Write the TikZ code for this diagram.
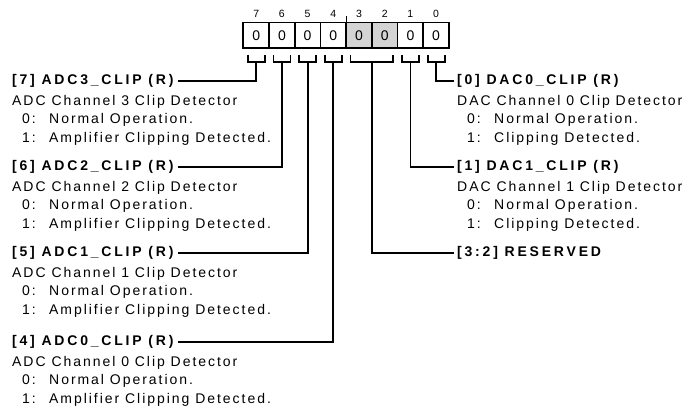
\documentclass[tikz,border=0pt]{standalone}
\usepackage{fontspec}
\setmainfont{Liberation Sans}[LetterSpace=14,BoldFeatures={LetterSpace=20}]
\usetikzlibrary{positioning}
\newcommand{\clipdesc}[3]{#1 Channel #2 Clip Detector\\
  \hspace*{10pt}\makebox[27pt][l]{0:}Normal Operation.\\
  \hspace*{10pt}\makebox[27pt][l]{1:}#3Clipping Detected.}

\begin{document}
\begin{tikzpicture}[
    x=1pt,y=-1pt,
    bitbox/.style={rectangle,draw,line width=1.8pt,outer sep=0pt,minimum width=25.7pt,
                   minimum height=25.5pt,inner sep=0pt,font=\fontsize{14}{16}\selectfont},
    bitnum/.style={inner sep=0pt,font=\fontsize{10.5}{12}\selectfont},
    fieldname/.style={anchor=west,inner sep=0pt,font=\fontsize{14}{16}\selectfont\bfseries},
    fielddesc/.style={anchor=north west,inner sep=0pt,align=left,
                      font=\fontsize{14}{18.5}\selectfont},
    wire/.style={line width=1.8pt}
  ]
  \useasboundingbox (0,0) rectangle (691,405);
  \foreach \b/\c in {7/white,6/white,5/white,4/white,3/black!17,2/black!17,1/white,0/white}{
    \node[bitbox,fill=\c] (r\b) at ({256.2+(7-\b)*25.7},35.2) {0};
    \node[bitnum,above=5pt of r\b] (n\b) {\b};
  }
  \draw[line width=1.2pt] (r4.north east) -- ++(0,-6);
  \foreach \b in {7,6,5,4,1,0}{
    \coordinate (s\b) at ([yshift=-14pt]r\b.south);
    \draw[wire] ([xshift=-8.5pt,yshift=-7pt]r\b.south) |- (s\b) -| ([xshift=8.5pt,yshift=-7pt]r\b.south);
  }
  \coordinate (s32) at ([yshift=-14pt]r3.south east);
  \draw[wire] ([xshift=-8.5pt,yshift=-7pt]r3.south) |- (s32) -| ([xshift=8.5pt,yshift=-7pt]r2.south);

  \node[fieldname] (f7) at (12,81) {[7] ADC3\_CLIP (R)};
  \node[fielddesc] (d7) at ([yshift=-14pt]f7.west) {\clipdesc{ADC}{3}{Amplifier }};
  \node[fieldname] (f6) at (12,167) {[6] ADC2\_CLIP (R)};
  \node[fielddesc] (d6) at ([yshift=-14pt]f6.west) {\clipdesc{ADC}{2}{Amplifier }};
  \node[fieldname] (f5) at (12,253) {[5] ADC1\_CLIP (R)};
  \node[fielddesc] (d5) at ([yshift=-14pt]f5.west) {\clipdesc{ADC}{1}{Amplifier }};
  \node[fieldname] (f4) at (12,342) {[4] ADC0\_CLIP (R)};
  \node[fielddesc] (d4) at ([yshift=-14pt]f4.west) {\clipdesc{ADC}{0}{Amplifier }};

  \node[fieldname] (g0) at (457,81) {[0] DAC0\_CLIP (R)};
  \node[fielddesc] (e0) at ([yshift=-14pt]g0.west) {\clipdesc{DAC}{0}{}};
  \node[fieldname] (g1) at (457,167) {[1] DAC1\_CLIP (R)};
  \node[fielddesc] (e1) at ([yshift=-14pt]g1.west) {\clipdesc{DAC}{1}{}};
  \node[fieldname] (g32) at (457,253) {[3:2] RESERVED};

  \foreach \b in {7,6,5,4}
    \draw[wire,shorten >=4pt] (s\b) |- (f\b.east);
  \foreach \b in {0,1,32}
    \draw[wire,shorten >=3pt] (s\b) |- (g\b.west);
\end{tikzpicture}
\end{document}
